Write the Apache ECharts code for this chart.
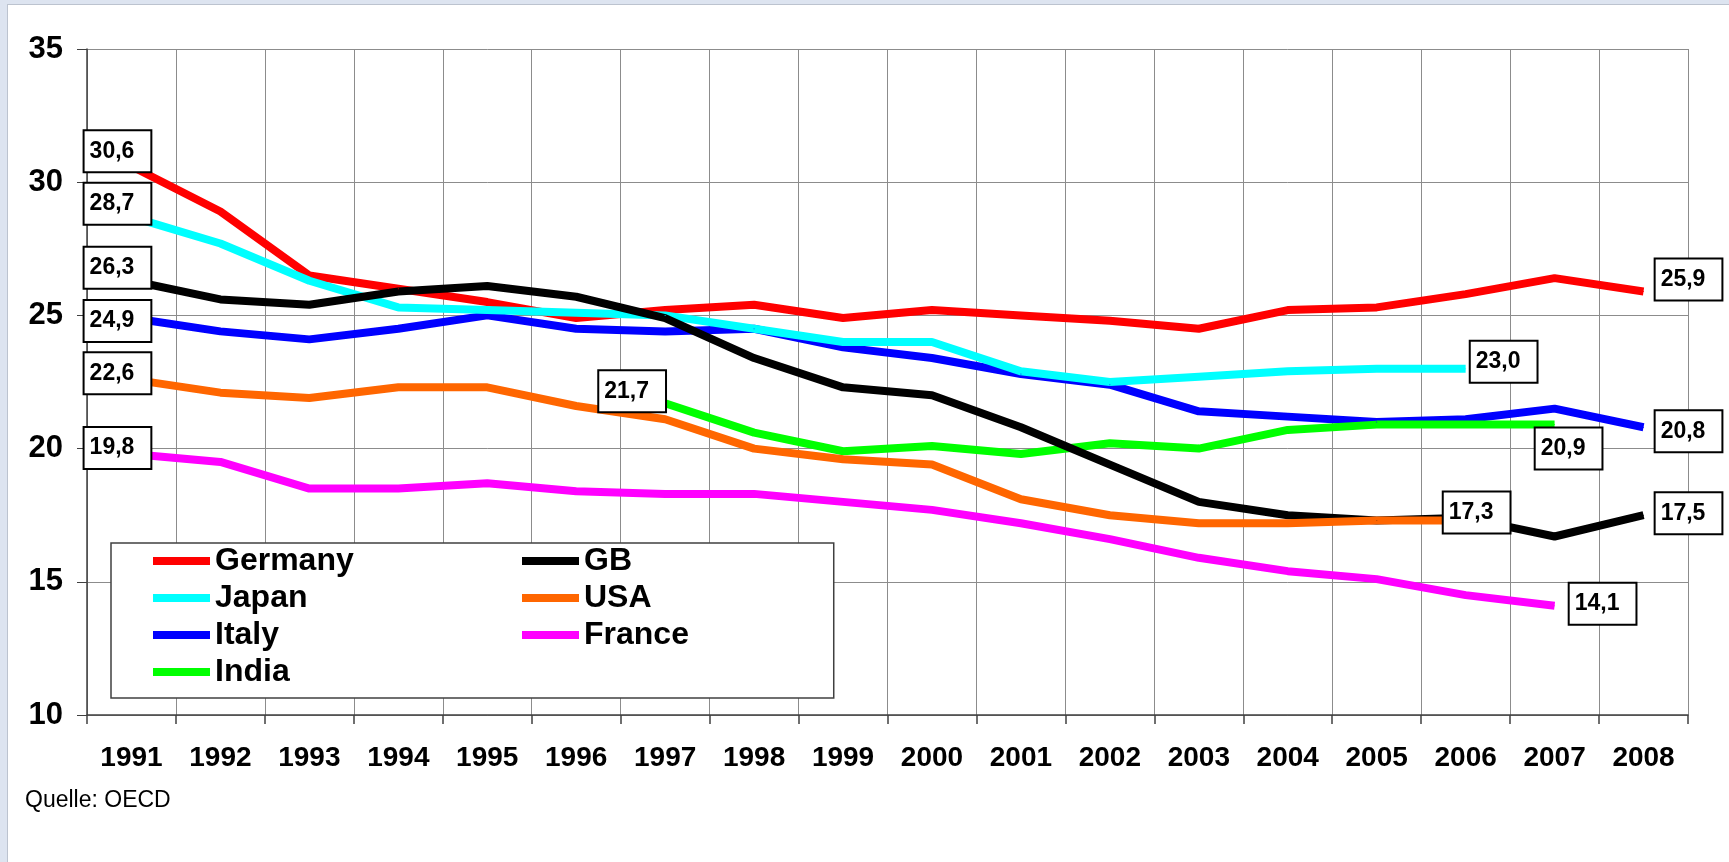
<!DOCTYPE html>
<html>
<head>
<meta charset="utf-8">
<script src="https://cdn.jsdelivr.net/npm/echarts@6/dist/echarts.min.js"></script>
<style>
  html, body { margin: 0; padding: 0; background: #dde4f0; }
  #frame { position: absolute; left: 7px; top: 4px; width: 1722px; height: 858px;
           background: #fff; border-left: 1px solid #bcc3cf; border-top: 1px solid #bcc3cf; }
  #chart { width: 1721px; height: 857px; }
</style>
</head>
<body>
<div id="frame"><div id="chart"></div></div>
<script>
const years = ['1991','1992','1993','1994','1995','1996','1997','1998','1999',
  '2000','2001','2002','2003','2004','2005','2006','2007','2008']

const germany = [30.6, 28.9, 26.5, 26.0, 25.5, 24.9, 25.2, 25.4, 24.9, 25.2, 25.0, 24.8, 24.5, 25.2, 25.3, 25.8, 26.4, 25.9]
const japan   = [28.7, 27.7, 26.3, 25.3, 25.2, 25.1, 25.0, 24.5, 24.0, 24.0, 22.9, 22.5, 22.7, 22.9, 23.0, 23.0, null, null]
const italy   = [24.9, 24.4, 24.1, 24.5, 25.0, 24.5, 24.4, 24.5, 23.8, 23.4, 22.8, 22.4, 21.4, 21.2, 21.0, 21.1, 21.5, 20.8]
const india   = [null, null, null, null, null, null, 21.7, 20.6, 19.9, 20.1, 19.8, 20.2, 20.0, 20.7, 20.9, 20.9, 20.9, null]
const gb      = [26.3, 25.6, 25.4, 25.9, 26.1, 25.7, 24.9, 23.4, 22.3, 22.0, 20.8, 19.4, 18.0, 17.5, 17.3, 17.4, 16.7, 17.5]
const usa     = [22.6, 22.1, 21.9, 22.3, 22.3, 21.6, 21.1, 20.0, 19.6, 19.4, 18.1, 17.5, 17.2, 17.2, 17.3, 17.3, null, null]
const france  = [19.8, 19.5, 18.5, 18.5, 18.7, 18.4, 18.3, 18.3, 18.0, 17.7, 17.2, 16.6, 15.9, 15.4, 15.1, 14.5, 14.1, null]

// which points carry a boxed value label, and where the box sits (px offset from the point)
const labelPos = {
  Germany: { 0: [-14, -15], 17: [45, -12] },
  Japan:   { 0: [-14, -13], 15: [38, -7] },
  Italy:   { 0: [-14, 3],   17: [45, 4] },
  India:   { 6: [-33, -12], 16: [14, 24] },
  GB:      { 0: [-14, -13], 17: [45, -2] },
  USA:     { 0: [-14, -6],  15: [11, -8] },
  France:  { 0: [-14, -6],  16: [48, -2] }
}

const FONT = '"Liberation Sans", Arial, sans-serif'

const boxLabel = (offset) => ({
  show: true, position: 'inside', offset,
  formatter: p => p.value.toFixed(1).replace('.', ','),
  fontFamily: FONT, fontSize: 23, fontWeight: 'bold', color: '#000',
  backgroundColor: '#fff', borderColor: '#000', borderWidth: 2,
  padding: [9, 16, 8, 5]
})

const makeSeries = (name, values, color) => ({
  name, type: 'line', data: values.map((v, i) => {
    const off = labelPos[name][i]
    return off ? { value: v, label: boxLabel(off) } : v
  }),
  symbol: 'circle', symbolSize: 1, showAllSymbol: true,
  itemStyle: { color },
  lineStyle: { color, width: 8 },
  emphasis: { disabled: true },
  connectNulls: false
})

const legendText = { fontFamily: FONT, fontSize: 32, fontWeight: 'bold', color: '#000' }

const chart = echarts.init(document.getElementById('chart'))
chart.setOption({
  animation: false,
  backgroundColor: '#fff',
  title: {
    text: 'Quelle: OECD', left: 17, top: 784, padding: 0,
    textStyle: { fontFamily: FONT, fontSize: 23, fontWeight: 'normal', color: '#000' }
  },
  grid: { left: 79, right: 41, top: 44, bottom: 147 },
  legend: [{
    data: ['Germany', 'Japan', 'Italy', 'India'],
    orient: 'vertical', left: 103, top: 538,
    padding: [2, 480, 10, 42], itemGap: 5,
    itemWidth: 57, itemHeight: 8, icon: 'rect',
    borderColor: '#404040', borderWidth: 1.5, backgroundColor: '#fff',
    textStyle: legendText
  }, {
    data: ['GB', 'USA', 'France'],
    orient: 'vertical', left: 514, top: 540,
    padding: 0, itemGap: 5,
    itemWidth: 57, itemHeight: 8, icon: 'rect',
    textStyle: legendText
  }],
  xAxis: {
    type: 'category', data: years, boundaryGap: true,
    axisLine: { lineStyle: { color: '#404040', width: 1.5 } },
    axisTick: { show: true, length: 9, interval: 0, lineStyle: { color: '#404040', width: 1.5 } },
    axisLabel: { interval: 0, margin: 29, fontFamily: FONT, fontSize: 28, fontWeight: 'bold', color: '#000' },
    splitLine: { show: true, interval: 0, lineStyle: { color: '#8c8c8c', width: 1 } }
  },
  yAxis: {
    type: 'value', min: 10, max: 35, interval: 5,
    axisLine: { show: true, lineStyle: { color: '#404040', width: 1.5 } },
    axisTick: { show: true, length: 10, lineStyle: { color: '#404040', width: 1 } },
    axisLabel: { margin: 24, fontFamily: FONT, fontSize: 31, fontWeight: 'bold', color: '#000' },
    splitLine: { show: true, lineStyle: { color: '#8c8c8c', width: 1 } }
  },
  series: [
    makeSeries('Germany', germany, '#ff0000'),
    makeSeries('Italy', italy, '#0000ff'),
    makeSeries('Japan', japan, '#00ffff'),
    makeSeries('India', india, '#00ff00'),
    makeSeries('GB', gb, '#000000'),
    makeSeries('USA', usa, '#ff6600'),
    makeSeries('France', france, '#ff00ff')
  ]
})
</script>
</body>
</html>
